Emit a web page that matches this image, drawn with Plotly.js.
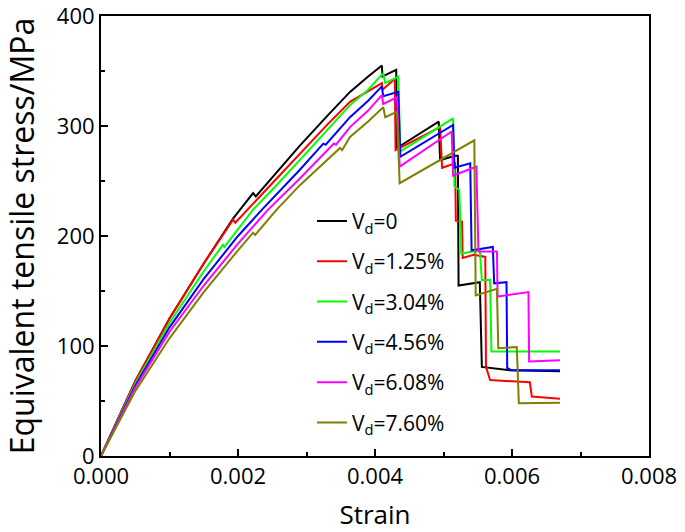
<!DOCTYPE html>
<html>
<head>
<meta charset="utf-8">
<script src="https://cdn.plot.ly/plotly-3.0.1.min.js"></script>
<style>html,body{margin:0;padding:0;background:#fff;}#chart{width:685px;height:532px;}</style>
</head>
<body>
<div id="chart"></div>
<script>
// Series labels and colours
var seriesNames = ["V<sub>d</sub>=0", "V<sub>d</sub>=1.25%", "V<sub>d</sub>=3.04%", "V<sub>d</sub>=4.56%", "V<sub>d</sub>=6.08%", "V<sub>d</sub>=7.60%"];
var seriesColors = ["#000000", "#ff0000", "#00ff00", "#0000ff", "#ff00ff", "#808000"];

// Vd = 0
var strain0 = [0, 0.0005, 0.001, 0.0015, 0.00193, 0.00203, 0.00222, 0.00226, 0.0025, 0.0029, 0.0033, 0.003635, 0.0039, 0.0041, 0.00411, 0.00431, 0.00432, 0.00493, 0.00495, 0.00517, 0.00521, 0.00522, 0.00553, 0.00556, 0.00597, 0.0067];
var stress0 = [0, 68, 125, 175, 216, 224, 239, 236, 253, 282, 309, 331, 345, 355, 345, 351, 280, 304, 269, 273, 273, 155, 158, 81, 78, 77];

// Vd = 1.25%
var strain1 = [0, 0.0005, 0.001, 0.0015, 0.00193, 0.00196, 0.0025, 0.0029, 0.0033, 0.003635, 0.0039, 0.0041, 0.00411, 0.00429, 0.0043, 0.00495, 0.00498, 0.00517, 0.00518, 0.00527, 0.00528, 0.00544, 0.00561, 0.00562, 0.00568, 0.00626, 0.00629, 0.0067];
var stress1 = [0, 68, 125, 175, 215, 212, 248, 275, 301, 322, 332, 339, 333, 343, 278, 299, 262, 266, 214, 213, 180, 183, 181, 81, 69, 67, 54, 52];

// Vd = 3.04%
var strain2 = [0, 0.0005, 0.001, 0.0015, 0.00178, 0.0018, 0.00222, 0.0025, 0.0029, 0.0033, 0.003635, 0.0039, 0.00412, 0.00415, 0.00434, 0.00437, 0.00514, 0.00516, 0.00523, 0.00526, 0.00553, 0.00556, 0.00568, 0.0057, 0.0067];
var stress2 = [0, 66, 121, 168, 192, 190, 224, 242, 269, 296, 319, 333, 348, 339, 345, 277, 307, 245, 242, 184, 187, 160, 160, 95, 95];

// Vd = 4.56%
var strain3 = [0, 0.0005, 0.001, 0.0015, 0.002, 0.00235, 0.0029, 0.003245, 0.00328, 0.003635, 0.0039, 0.0041, 0.00412, 0.00434, 0.00437, 0.00514, 0.00516, 0.00539, 0.00541, 0.00572, 0.00574, 0.00592, 0.00593, 0.00599, 0.0067];
var stress3 = [0, 64, 117, 161, 200, 224, 260, 284, 283, 308, 323, 336, 327, 331, 272, 301, 262, 266, 187, 190, 157, 158, 80, 78, 78];

// Vd = 6.08%
var strain4 = [0, 0.0005, 0.001, 0.0015, 0.002, 0.00244, 0.0029, 0.0033, 0.0034, 0.00343, 0.003635, 0.0039, 0.0041, 0.00412, 0.00432, 0.00436, 0.00512, 0.00514, 0.00548, 0.00551, 0.00578, 0.00579, 0.00624, 0.00625, 0.0067];
var stress4 = [0, 62, 113, 155, 193, 224, 252, 277, 284, 283, 299, 314, 328, 320, 326, 263, 295, 255, 263, 186, 186, 145, 149, 86, 87];

// Vd = 7.60%
var strain5 = [0, 0.0005, 0.001, 0.0015, 0.002, 0.00222, 0.00225, 0.002565, 0.0029, 0.00335, 0.00349, 0.00352, 0.003635, 0.0039, 0.00412, 0.00415, 0.00432, 0.00436, 0.00545, 0.00547, 0.00578, 0.0058, 0.00607, 0.0061, 0.0067];
var stress5 = [0, 59, 107, 149, 187, 203, 201, 224, 246, 272, 280, 278, 290, 304, 317, 308, 313, 248, 287, 146, 152, 98, 99, 48, 48.5];

var strains = [strain0, strain1, strain2, strain3, strain4, strain5];
var stresses = [stress0, stress1, stress2, stress3, stress4, stress5];

var traces = strains.map(function (s, i) {
  return {
    x: s, y: stresses[i], type: "scatter", mode: "lines",
    name: seriesNames[i], legendgroup: "g" + i,
    line: {color: seriesColors[i], width: 2}
  };
});

var fontFam = "Open Sans, Noto Sans, sans-serif";
var layout = {
  width: 685, height: 532,
  margin: {l: 101, r: 36, t: 16, b: 76},
  paper_bgcolor: "#ffffff", plot_bgcolor: "#ffffff",
  showlegend: true,
  legend: {x: 0.385, y: 0.58, xanchor: "left", yanchor: "top", bgcolor: "rgba(0,0,0,0)",
           font: {family: fontFam, size: 21, color: "#000"}, tracegroupgap: 10, itemwidth: 30},
  xaxis: {
    range: [0, 0.008], autorange: false, tickmode: "linear", tick0: 0, dtick: 0.002, tickformat: ".3f",
    ticks: "inside", ticklen: 7, tickwidth: 2, tickcolor: "#000", ticklabeloverflow: "allow",
    minor: {dtick: 0.001, ticks: "inside", ticklen: 4, tickwidth: 2, tickcolor: "#000"},
    showline: true, linecolor: "#000", linewidth: 2, mirror: true,
    showgrid: false, zeroline: false,
    tickfont: {family: fontFam, size: 22, color: "#000"},
    title: {text: "Strain", font: {family: fontFam, size: 26, color: "#000"}, standoff: 18}
  },
  yaxis: {
    range: [0, 400], autorange: false, tickmode: "linear", tick0: 0, dtick: 100,
    ticks: "inside", ticklen: 7, tickwidth: 2, tickcolor: "#000", ticklabeloverflow: "allow",
    minor: {dtick: 50, ticks: "inside", ticklen: 4, tickwidth: 2, tickcolor: "#000"},
    showline: true, linecolor: "#000", linewidth: 2, mirror: true,
    showgrid: false, zeroline: false,
    tickfont: {family: fontFam, size: 22, color: "#000"},
    title: {text: "Equivalent tensile stress/MPa", font: {family: fontFam, size: 32, color: "#000"}, standoff: 16}
  }
};

Plotly.newPlot("chart", traces, layout, {staticPlot: true, displayModeBar: false});
</script>
</body>
</html>
